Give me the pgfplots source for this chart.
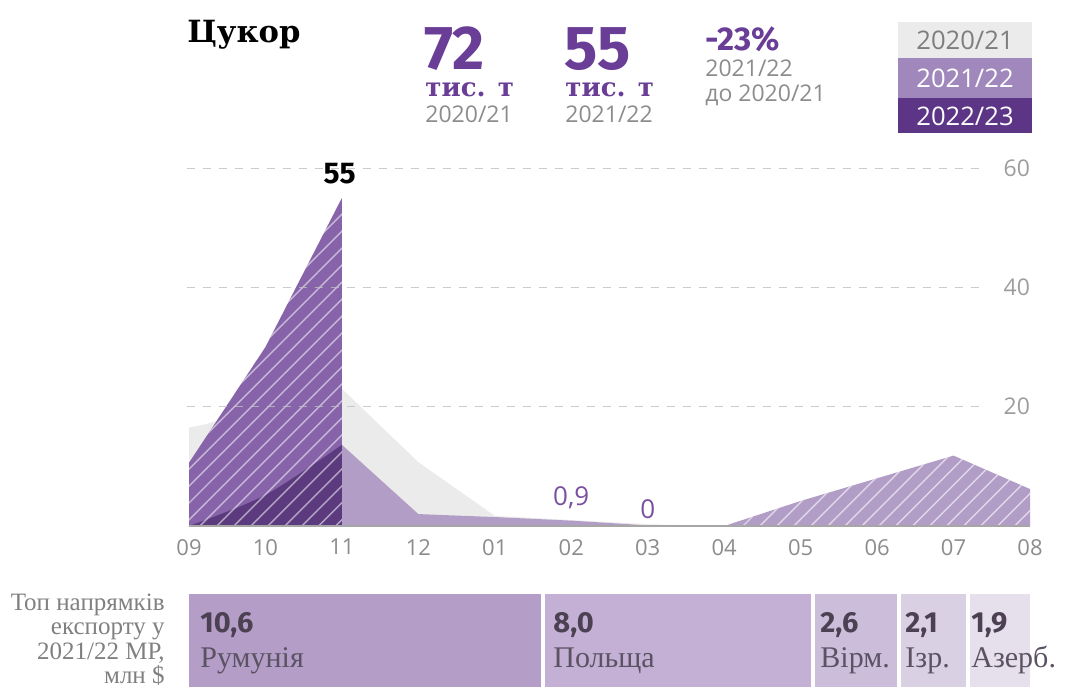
\documentclass[border=0pt]{standalone}
\usepackage{pgfplots}
\pgfplotsset{compat=1.18}
\usetikzlibrary{patterns.meta}
\usepackage{fontspec}
\setmainfont{Liberation Serif}
\newfontfamily\slab{DejaVu Serif}
\newfontfamily\sans{Open Sans}
\newfontfamily\fira{Fira Sans}
\definecolor{g20}{HTML}{EBEBEB}
\definecolor{lav}{HTML}{B29DC7}
\definecolor{spike}{HTML}{8763A9}
\definecolor{dark}{HTML}{5B3A7E}
\definecolor{purp}{HTML}{6A3D96}
\definecolor{txtg}{HTML}{8C8C8C}
\definecolor{leg2}{HTML}{A088BD}
\definecolor{leg3}{HTML}{5D3587}
\definecolor{b1}{HTML}{B49DC6}
\definecolor{b2}{HTML}{C4B0D4}
\definecolor{b3}{HTML}{CCBDDA}
\definecolor{b4}{HTML}{D9D0E3}
\definecolor{b5}{HTML}{E6E0EC}
\definecolor{bnum}{HTML}{4B4152}
\definecolor{bname}{HTML}{5B5263}
\begin{document}
\begin{tikzpicture}[x=0.5pt,y=-0.5pt]
\useasboundingbox (0,0) rectangle (1066,692);
% header
\node[anchor=base west,inner sep=0] at (187,42) {\slab\bfseries\fontsize{15.3}{15}\selectfont Цукор};
\node[anchor=base west,inner sep=0,text=purp] at (424,69) {\fira\bfseries\fontsize{31}{31}\selectfont 72};
\node[anchor=base west,inner sep=0,text=purp] at (425,96) {\slab\bfseries\fontsize{13}{13}\selectfont тис. т};
\node[anchor=base west,inner sep=0,text=txtg] at (425,122) {\sans\fontsize{11.5}{12}\selectfont 2020/21};
\node[anchor=base west,inner sep=0,text=purp] at (564,69) {\fira\bfseries\fontsize{31}{31}\selectfont 55};
\node[anchor=base west,inner sep=0,text=purp] at (565,96) {\slab\bfseries\fontsize{13}{13}\selectfont тис. т};
\node[anchor=base west,inner sep=0,text=txtg] at (565,122) {\sans\fontsize{11.5}{12}\selectfont 2021/22};
\node[anchor=base west,inner sep=0,text=purp] at (705,50) {\fira\bfseries\fontsize{16.5}{16}\selectfont -23\%};
\node[anchor=base west,inner sep=0,text=txtg] at (705,76) {\sans\fontsize{11.5}{12}\selectfont 2021/22};
\node[anchor=base west,inner sep=0,text=txtg] at (705,101) {\sans\fontsize{11.5}{12}\selectfont до 2020/21};
% legend boxes
\fill[g20] (898,22) rectangle (1032,58);
\fill[leg2] (898,58) rectangle (1032,98);
\fill[leg3] (898,98) rectangle (1032,133);
\node[text=txtg!90!black,inner sep=0] at (965,40) {\sans\fontsize{12.8}{12}\selectfont 2020/21};
\node[text=white,inner sep=0] at (965,78) {\sans\fontsize{12.8}{12}\selectfont 2021/22};
\node[text=white,inner sep=0] at (965,116) {\sans\fontsize{12.8}{12}\selectfont 2022/23};
% chart
\begin{axis}[
  at={(94.5pt,-263pt)}, anchor=south west,
  scale only axis, width=420.5pt, height=179pt,
  xmin=0, xmax=11, ymin=0, ymax=60,
  clip=false,
  axis line style={draw=none}, tick style={draw=none},
  xtick={0,...,11},
  xticklabels={09,10,11,12,01,02,03,04,05,06,07,08},
  ytick={20,40,60}, yticklabels={20,40,60},
  yticklabel pos=right,
  xticklabel style={font=\sans\fontsize{11}{11}\selectfont, text=txtg, yshift=-3pt},
  yticklabel style={font=\sans\fontsize{11.5}{11.5}\selectfont, text=txtg!85, anchor=east, xshift=3.5pt},
]
% 2020/21
\addplot[draw=none, fill=g20] coordinates {(0,16.5) (0.2,17) (1,20) (2,23) (3,10.7) (4,1.7) (5,1.0) (6,0.3) (7,0) (11,0)} \closedcycle;
% 2021/22
\addplot[draw=none, fill=lav] coordinates {(2,13.6) (3,2.0) (4,1.5) (5,0.9) (6,0.1) (7,0) (8,4.2) (9,8.0) (10,11.8) (11,6.2)} \closedcycle;
\addplot[draw=none, pattern={Lines[angle=45,distance=6pt,line width=0.7pt]}, pattern color=white, opacity=0.6] coordinates {(7,0) (8,4.2) (9,8.0) (10,11.8) (11,6.2)} \closedcycle;
% spike
\addplot[draw=none, fill=spike] coordinates {(0,10.6) (1,30) (2,55)} \closedcycle;
% 2022/23
\addplot[draw=none, fill=dark, smooth] coordinates {(0,0) (1,5.2) (2,13.6)} \closedcycle;
\addplot[draw=none, pattern={Lines[angle=45,distance=6pt,line width=0.7pt]}, pattern color=white, opacity=0.55] coordinates {(0,10.6) (1,30) (2,55)} \closedcycle;
% grid and baseline
\draw[gray!50, line width=0.5pt, dash pattern=on 4pt off 4pt, opacity=0.8] (axis cs:-0.03,20) -- (axis cs:10.38,20);
\draw[gray!50, line width=0.5pt, dash pattern=on 4pt off 4pt, opacity=0.8] (axis cs:-0.03,40) -- (axis cs:10.38,40);
\draw[gray!50, line width=0.5pt, dash pattern=on 4pt off 4pt, opacity=0.8] (axis cs:-0.03,60) -- (axis cs:10.38,60);
\draw[gray!70, line width=0.7pt] (axis cs:0,0) -- (axis cs:11,0);
% labels
\node[anchor=base, inner sep=0] at (axis cs:1.97,55) [yshift=7pt] {\fira\bfseries\fontsize{15}{15}\selectfont 55};
\node[anchor=base, inner sep=0, text=purp!90] at (axis cs:5,0.9) [yshift=7.5pt] {\sans\fontsize{13}{13}\selectfont 0,9};
\node[anchor=base, inner sep=0, text=purp!90] at (axis cs:6,0) [yshift=4pt] {\sans\fontsize{13}{13}\selectfont 0};
\end{axis}
% bottom bars
\fill[b1] (189,594) rectangle (541,687);
\fill[b2] (545,594) rectangle (811,687);
\fill[b3] (815,594) rectangle (897,687);
\fill[b4] (901,594) rectangle (966,687);
\fill[b5] (970,594) rectangle (1030,687);
\foreach \x/\n/\c in {200/10{,}6/Румунія, 553/8{,}0/Польща, 820/2{,}6/Вірм., 905/2{,}1/Ізр., 971/1{,}9/Азерб.} {
  \node[anchor=base west,inner sep=0,text=bnum] at (\x,632) {\fira\bfseries\fontsize{14.5}{14.5}\selectfont \n};
  \node[anchor=base west,inner sep=0,text=bname] at (\x,667) {\fontsize{15}{15}\selectfont \c};
}
% left label
\node[anchor=base east,inner sep=0,text=gray] at (165,610) {\fontsize{12.5}{12}\selectfont Топ напрямків};
\node[anchor=base east,inner sep=0,text=gray] at (165,634) {\fontsize{12.5}{12}\selectfont експорту у};
\node[anchor=base east,inner sep=0,text=gray] at (165,659) {\fontsize{12.5}{12}\selectfont 2021/22 МР,};
\node[anchor=base east,inner sep=0,text=gray] at (165,683) {\fontsize{12.5}{12}\selectfont млн \$};
\end{tikzpicture}
\end{document}
